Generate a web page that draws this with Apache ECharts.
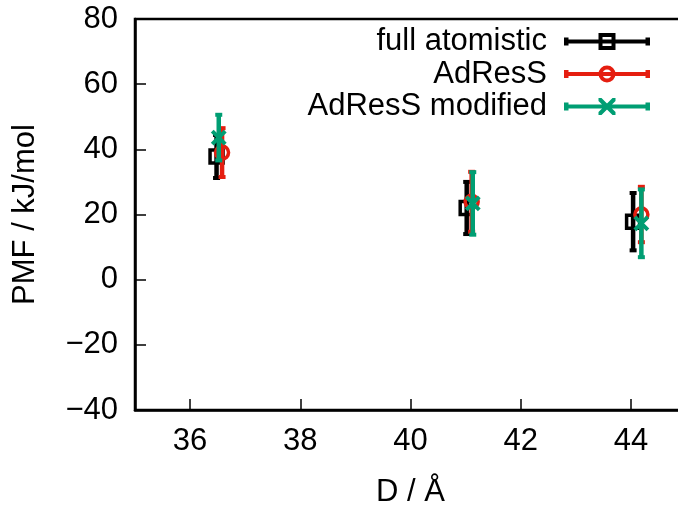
<!DOCTYPE html>
<html>
<head>
<meta charset="utf-8">
<script src="https://cdn.jsdelivr.net/npm/echarts@6/dist/echarts.min.js"></script>
<style>html,body{margin:0;padding:0;background:#fff}#c{width:678px;height:506px}</style>
</head>
<body>
<div id="c"></div>
<script>
const seriesNames = ['full atomistic', 'AdResS', 'AdResS modified'];
const xFull = [36.48, 41.02, 44.04];
const yFull = [37.8, 22.0, 17.8];
const eFull = [6.6, 8.0, 8.8];
const xAdress = [36.58, 41.11, 44.19];
const yAdress = [39.0, 23.9, 20.0];
const eAdress = [7.5, 9.2, 8.5];
const xMod = [36.52, 41.13, 44.19];
const yMod = [43.6, 23.4, 17.3];
const eMod = [7.0, 9.6, 10.4];
const xTicks = [36, 38, 40, 42, 44];
const yTicks = [-40, -20, 0, 20, 40, 60, 80];

const colors = ['#000000', '#e51e10', '#009e73'];
const FONT = '"Liberation Sans", Arial, sans-serif';
const FS = 31;

const line = 'M0 6.5 H86 V10.5 H0 Z ';
const caps = 'M0 4.5 H4.5 V12.5 H0 Z M81.5 4.5 H86 V12.5 H81.5 Z ';
const icons = [
  'path://' + line + caps + 'M34.5 0 H51.5 V17 H34.5 Z M38.5 4 V13 H47.5 V4 Z',
  'path://' + line + caps + 'M34.5 8.5 A8.5 8.5 0 1 1 51.5 8.5 A8.5 8.5 0 1 1 34.5 8.5 Z M38.5 8.5 A4.5 4.5 0 1 0 47.5 8.5 A4.5 4.5 0 1 0 38.5 8.5 Z',
  'path://' + line + caps + 'M34.5 0 L37.5 0 L51.5 14 L51.5 17 L48.5 17 L34.5 3 Z M51.5 0 L51.5 3 L37.5 17 L34.5 17 L34.5 14 L48.5 0 Z'
];

function zip(xs, ys, es) { return xs.map((x, i) => [x, ys[i], es[i]]); }

function makeRender(kind, color) {
  return function (params, api) {
    const x = api.value(0), y = api.value(1), e = api.value(2);
    const p = api.coord([x, y]);
    const t = api.coord([x, y + e]);
    const b = api.coord([x, y - e]);
    const cap = 3.5;
    const lw = 4.5;
    const ch = [
      { type: 'line', shape: { x1: p[0], y1: t[1], x2: p[0], y2: b[1] }, style: { stroke: color, lineWidth: lw } },
      { type: 'line', shape: { x1: p[0] - cap, y1: t[1], x2: p[0] + cap, y2: t[1] }, style: { stroke: color, lineWidth: 4 } },
      { type: 'line', shape: { x1: p[0] - cap, y1: b[1], x2: p[0] + cap, y2: b[1] }, style: { stroke: color, lineWidth: 4 } }
    ];
    if (kind === 'square') {
      ch.push({ type: 'rect', shape: { x: p[0] - 6.5, y: p[1] - 6.5, width: 13, height: 13 }, style: { stroke: color, fill: 'none', lineWidth: 3.5 } });
    } else if (kind === 'circle') {
      ch.push({ type: 'circle', shape: { cx: p[0], cy: p[1], r: 6.5 }, style: { stroke: color, fill: 'none', lineWidth: 3.5 } });
    } else {
      ch.push({ type: 'line', shape: { x1: p[0] - 6.5, y1: p[1] - 6.5, x2: p[0] + 6.5, y2: p[1] + 6.5 }, style: { stroke: color, lineWidth: 4 } });
      ch.push({ type: 'line', shape: { x1: p[0] - 6.5, y1: p[1] + 6.5, x2: p[0] + 6.5, y2: p[1] - 6.5 }, style: { stroke: color, lineWidth: 4 } });
    }
    return { type: 'group', children: ch };
  };
}

const chart = echarts.init(document.getElementById('c'), null, { renderer: 'canvas' });
const kinds = ['square', 'circle', 'cross'];
const datasets = [zip(xFull, yFull, eFull), zip(xAdress, yAdress, eAdress), zip(xMod, yMod, eMod)];

chart.setOption({
  animation: false,
  backgroundColor: '#fff',
  textStyle: { fontFamily: FONT },
  grid: {
    left: 135, top: 19, right: -8, bottom: 96,
    show: true, borderColor: '#000', borderWidth: 2.5, backgroundColor: 'transparent',
    containLabel: false, outerBoundsMode: 'none'
  },
  legend: {
    orient: 'vertical', align: 'right', right: 28, top: 26, padding: 0,
    itemWidth: 86, itemHeight: 17, itemGap: 1.5,
    selectedMode: false,
    textStyle: { fontSize: FS, color: '#000', fontFamily: FONT, padding: [0, 12, 0, 0] },
    data: seriesNames.map((n, i) => ({ name: n, icon: icons[i], itemStyle: { color: colors[i] } }))
  },
  xAxis: {
    type: 'value', min: 35, max: 45,
    name: 'D / Å', nameLocation: 'middle', nameGap: 67,
    nameTextStyle: { fontSize: FS, color: '#000', fontFamily: FONT },
    axisLine: { show: true, onZero: false, lineStyle: { color: '#000', width: 2.5 } },
    axisTick: { show: true, inside: true, length: 11, customValues: xTicks, lineStyle: { color: '#000', width: 1.5 } },
    axisLabel: { customValues: xTicks, fontSize: FS, color: '#000', margin: 16, fontFamily: FONT },
    splitLine: { show: false }
  },
  yAxis: {
    type: 'value', min: -40, max: 80, interval: 20,
    name: 'PMF / kJ/mol', nameLocation: 'middle', nameGap: 94,
    nameTextStyle: { fontSize: FS, color: '#000', fontFamily: FONT },
    axisLine: { show: true, lineStyle: { color: '#000', width: 2.5 } },
    axisTick: { show: true, inside: true, length: 11, lineStyle: { color: '#000', width: 1.5 } },
    axisLabel: { fontSize: FS, color: '#000', margin: 17, fontFamily: FONT,
      customValues: yTicks,
      formatter: v => String(v).replace('-', '\u2212') },
    splitLine: { show: false }
  },
  series: seriesNames.map((n, i) => ({
    name: n, type: 'custom',
    itemStyle: { color: colors[i] },
    renderItem: makeRender(kinds[i], colors[i]),
    encode: { x: 0, y: 1 },
    data: datasets[i],
    clip: false
  }))
});
</script>
</body>
</html>
